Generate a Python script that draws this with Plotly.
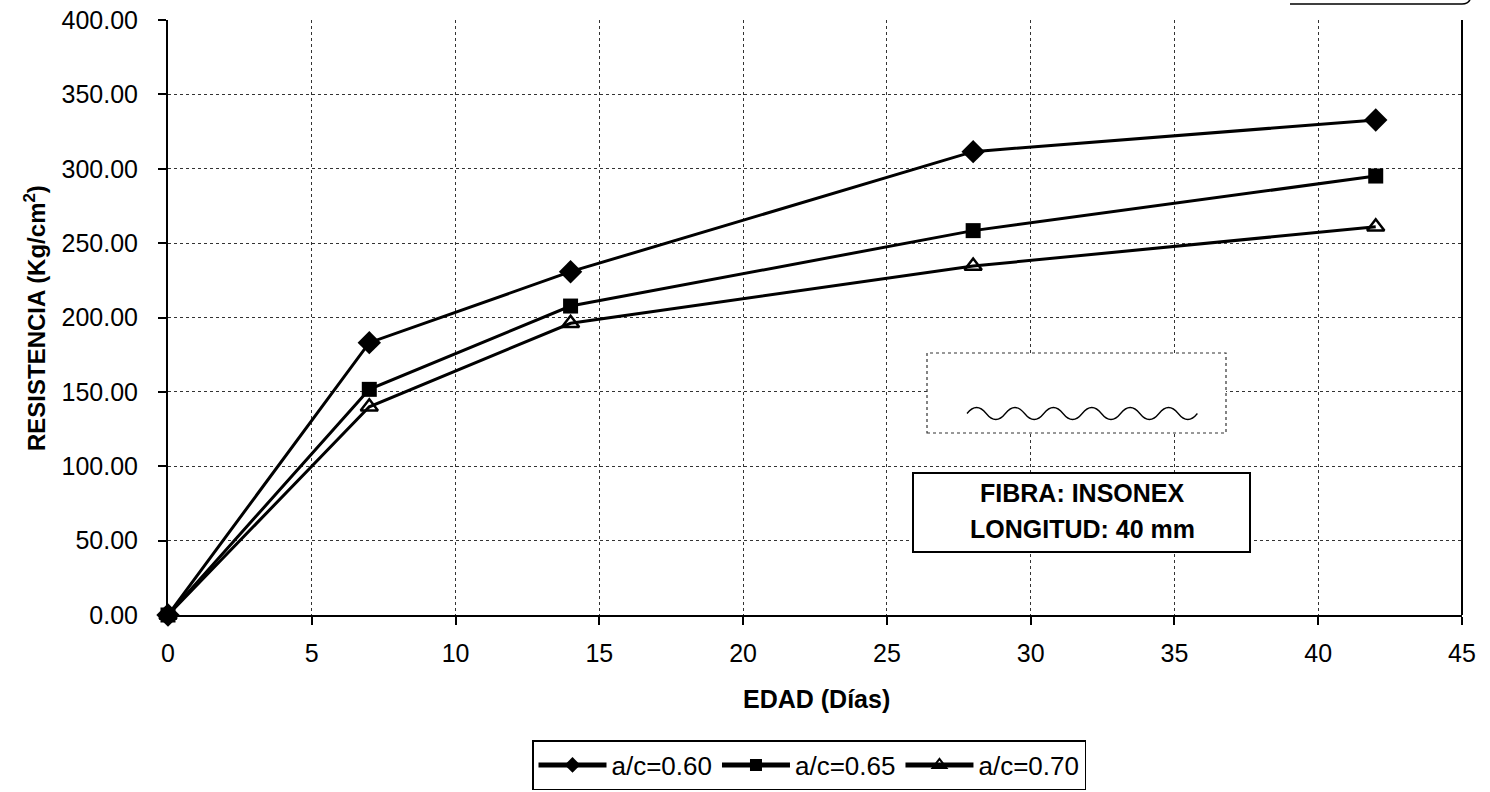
import plotly.graph_objects as go

# Compressive strength vs. age for three water/cement ratios
edad_dias = [0, 7, 14, 28, 42]
res_060 = [0.0, 183.1, 230.8, 311.5, 332.8]
res_065 = [0.0, 151.7, 207.7, 258.4, 295.1]
res_070 = [0.0, 140.0, 196.1, 234.6, 261.0]
nombres = ["a/c=0.60", "a/c=0.65", "a/c=0.70"]

x_ticks = [0, 5, 10, 15, 20, 25, 30, 35, 40, 45]
y_ticks = [0, 50, 100, 150, 200, 250, 300, 350, 400]

W, H = 1490, 792
L, R, T, B = 168, 1462, 20, 615  # plot area in pixels
FONT = "Arial, Liberation Sans, sans-serif"


def px(x):
    return (x - L) / (R - L)


def py(y):
    return (B - y) / (B - T)


fig = go.Figure()

marcadores = [
    dict(symbol="diamond", size=18, color="black", line=dict(width=0)),
    dict(symbol="square", size=15, color="black", line=dict(width=0)),
    dict(symbol="triangle-up-open", size=15, color="black", line=dict(width=2.5, color="black")),
]
for nombre, serie, mk in zip(nombres, [res_060, res_065, res_070], marcadores):
    fig.add_trace(go.Scatter(
        x=edad_dias, y=serie, name=nombre, mode="lines+markers",
        line=dict(color="black", width=3), marker=mk, cliponaxis=False,
    ))

shapes = []
# solid right border of the plot area
shapes.append(dict(type="line", xref="paper", yref="paper", x0=1, x1=1, y0=0, y1=1,
                   line=dict(color="black", width=2)))

# fibre sketch box with a wavy fibre drawn inside
shapes.append(dict(type="rect", xref="paper", yref="paper",
                   x0=px(927), x1=px(1226), y0=py(433), y1=py(353),
                   line=dict(color="#333", width=1.2, dash="dot"), fillcolor="white", layer="above"))
x_start, x_end, y_mid, amp, half = 967.0, 1197.0, 413.5, 6.0, 19.2
path = f"M {px(x_start)},{py(y_mid)}"
xx, up = x_start, True
while xx + half <= x_end + 0.5:
    cy = y_mid - 2 * amp if up else y_mid + 2 * amp
    path += f" Q {px(xx + half / 2)},{py(cy)} {px(xx + half)},{py(y_mid)}"
    xx += half
    up = not up
shapes.append(dict(type="path", xref="paper", yref="paper", path=path,
                   line=dict(color="black", width=1.3), layer="above"))

# text box for fibre description
shapes.append(dict(type="rect", xref="paper", yref="paper",
                   x0=px(913), x1=px(1250), y0=py(552), y1=py(473),
                   line=dict(color="black", width=2), fillcolor="white", layer="above"))

# partial rounded frame at the top-right corner of the page
frame = (f"M {px(1290)},{py(4)} L {px(1462)},{py(4)} "
         f"Q {px(1470)},{py(4)} {px(1471)},{py(-4)}")
shapes.append(dict(type="path", xref="paper", yref="paper", path=frame,
                   line=dict(color="black", width=1.5)))

annotations = [
    dict(text="<b>FIBRA: INSONEX</b>", xref="paper", yref="paper", x=px(1082), y=py(493),
         showarrow=False, font=dict(family=FONT, size=25, color="black"),
         xanchor="center", yanchor="middle"),
    dict(text="<b>LONGITUD: 40 mm</b>", xref="paper", yref="paper", x=px(1082), y=py(529),
         showarrow=False, font=dict(family=FONT, size=25, color="black"),
         xanchor="center", yanchor="middle"),
    dict(text="<b>EDAD (Días)</b>", xref="paper", yref="paper", x=px(816), y=py(699),
         showarrow=False, font=dict(family=FONT, size=25, color="black"),
         xanchor="center", yanchor="middle"),
    dict(text="<b>RESISTENCIA (Kg/cm<sup>2</sup>)</b>", xref="paper", yref="paper",
         x=px(35), y=py(318), textangle=-90, showarrow=False,
         font=dict(family=FONT, size=24, color="black"),
         xanchor="center", yanchor="middle"),
]

fig.update_layout(
    width=W, height=H,
    margin=dict(l=L, r=W - R, t=T, b=H - B, pad=0, autoexpand=False),
    paper_bgcolor="white", plot_bgcolor="white",
    font=dict(family=FONT, color="black"),
    xaxis=dict(range=[0, 45], tickvals=x_ticks, ticktext=[str(v) for v in x_ticks],
               showgrid=True, gridcolor="#333", griddash="dot", gridwidth=1,
               showline=True, linecolor="black", linewidth=2, zeroline=False,
               ticks="outside", ticklen=8, tickwidth=1.5, tickcolor="black",
               ticklabelstandoff=7, tickfont=dict(size=25, family=FONT), automargin=False),
    yaxis=dict(range=[0, 400], tickvals=y_ticks, ticktext=[f"{v:.2f}" for v in y_ticks],
               showgrid=True, gridcolor="#333", griddash="dot", gridwidth=1,
               showline=True, linecolor="black", linewidth=2, zeroline=False,
               ticks="outside", ticklen=8, tickwidth=1.5, tickcolor="black",
               ticklabelstandoff=15, tickfont=dict(size=25, family=FONT), automargin=False),
    legend=dict(orientation="h", xref="container", yref="container",
                x=809 / W, y=2 / H, xanchor="center", yanchor="bottom",
                bordercolor="black", borderwidth=1.5, bgcolor="white",
                font=dict(family=FONT, size=26, color="black"),
                itemwidth=68, tracegroupgap=0, itemsizing="constant"),
    shapes=shapes, annotations=annotations, showlegend=True,
)

fig.write_html("out.html")
